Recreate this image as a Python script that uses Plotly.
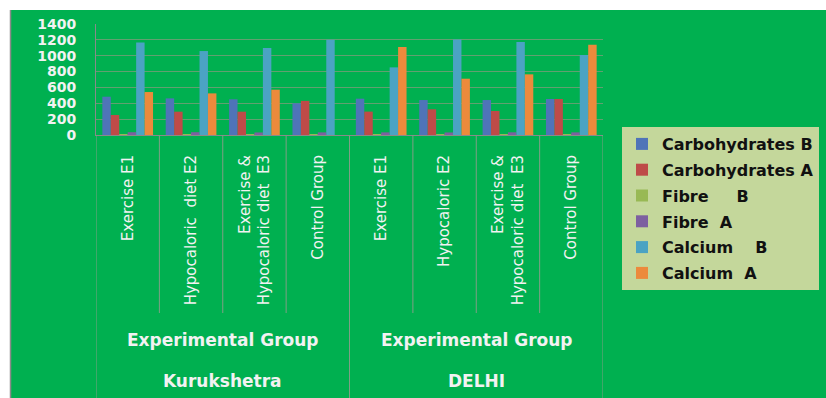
import plotly.graph_objects as go

# Category labels (first level), region groupings (second/third level)
categories = [
    "Exercise E1",
    "Hypocaloric\u00a0 diet E2",
    "Exercise &<br>Hypocaloric diet\u00a0 E3",
    "Control Group",
    "Exercise E1",
    "Hypocaloric E2",
    "Exercise &<br>Hypocaloric diet\u00a0 E3",
    "Control Group",
]
regions = ["Kurukshetra", "DELHI"]
subgroup_label = "Experimental Group"
cats_per_region = 4

# Nutrient intake (B = before, A = after)
series_names = [
    "Carbohydrates B",
    "Carbohydrates A",
    "Fibre\u00a0\u00a0\u00a0\u00a0 B",
    "Fibre\u00a0 A",
    "Calcium\u00a0\u00a0\u00a0 B",
    "Calcium\u00a0 A",
]
carbohydrates_b = [483, 462, 450, 400, 458, 441, 441, 454]
carbohydrates_a = [252, 294, 294, 430, 295, 324, 303, 454]
fibre_b = [12, 12, 10, 10, 12, 10, 10, 10]
fibre_a = [35, 35, 32, 33, 33, 32, 34, 33]
calcium_b = [1168, 1059, 1097, 1202, 853, 1206, 1173, 1009]
calcium_a = [542, 525, 571, None, 1110, 710, 765, 1139]
series_values = [carbohydrates_b, carbohydrates_a, fibre_b, fibre_a, calcium_b, calcium_a]
series_colors = ["#4F74B8", "#BE4B48", "#98B954", "#7D60A0", "#4BA3C3", "#EC8A3C"]

y_ticks = [0, 200, 400, 600, 800, 1000, 1200, 1400]

W, H = 826, 398
L, R, T, B = 96, 603, 24, 135  # plot area in pixels


def px_x(p):
    return (p - L) / (R - L)


def px_y(p):
    return (B - p) / (B - T)


xs = list(range(len(categories)))

fig = go.Figure()
for i, (name, vals, col) in enumerate(zip(series_names, series_values, series_colors)):
    fig.add_trace(go.Bar(x=xs, y=vals, name=name, legendgroup=f"g{i}",
                         marker=dict(color=col, line=dict(width=0))))

shapes = [
    # green chart area
    dict(type="rect", xref="paper", yref="paper", layer="below",
         x0=px_x(10), x1=px_x(W + 2), y0=px_y(H + 2), y1=px_y(10),
         fillcolor="#00B050", line=dict(width=0)),
    # left border of the chart area
    dict(type="line", xref="paper", yref="paper", layer="below",
         x0=px_x(10.5), x1=px_x(10.5), y0=px_y(H + 2), y1=px_y(10),
         line=dict(color="#8a8a8a", width=1.5)),
]

# category separators: short ones inside a region, long ones between regions
for k in range(len(categories) + 1):
    long_line = k % cats_per_region == 0
    shapes.append(dict(
        type="line", xref="x", yref="paper", layer="above",
        x0=k - 0.5, x1=k - 0.5, y0=px_y(B), y1=px_y(H + 2 if long_line else 313),
        line=dict(color="#7f9f85", width=1)))

label_font = dict(family="DejaVu Sans", size=17, color="#F2F2F2", weight="bold")
annotations = []
for r, region in enumerate(regions):
    center = r * cats_per_region + (cats_per_region - 1) / 2
    annotations.append(dict(
        x=center, y=px_y(340), xref="x", yref="paper", text=subgroup_label,
        xanchor="center", yanchor="middle", showarrow=False, font=label_font))
    annotations.append(dict(
        x=center, y=px_y(381), xref="x", yref="paper", text=region,
        xanchor="center", yanchor="middle", showarrow=False, font=label_font))

fig.update_layout(
    width=W, height=H,
    margin=dict(l=L, r=W - R, t=T, b=H - B, pad=0, autoexpand=False),
    paper_bgcolor="white",
    plot_bgcolor="rgba(0,0,0,0)",
    barmode="group",
    bargap=0.2,
    bargroupgap=0,
    shapes=shapes,
    annotations=annotations,
    showlegend=True,
    legend=dict(
        x=px_x(622), y=px_y(127), xanchor="left", yanchor="top",
        bgcolor="#C4D79B", borderwidth=0,
        font=dict(family="DejaVu Sans", size=16, color="#111111", weight="bold"),
        itemwidth=30, tracegroupgap=2, maxheight=300,
    ),
    xaxis=dict(
        range=[-0.5, len(categories) - 0.5],
        tickvals=xs, ticktext=categories, tickangle=-90,
        tickfont=dict(family="DejaVu Sans", size=15, color="#F2F2F2"),
        showgrid=False, zeroline=False,
        showline=True, linecolor="#8a8a8a", linewidth=1,
        ticks="", ticklabelstandoff=13,
        fixedrange=True,
    ),
    yaxis=dict(
        range=[0, 1400],
        tickvals=y_ticks,
        tickfont=dict(family="DejaVu Sans", size=14, color="#F2F2F2", weight="bold"),
        showgrid=True, gridcolor="#62a070", gridwidth=1,
        zeroline=False,
        showline=True, linecolor="#8a8a8a", linewidth=1,
        ticks="", ticklabelstandoff=16,
        fixedrange=True,
    ),
)

fig.write_html("out.html")
